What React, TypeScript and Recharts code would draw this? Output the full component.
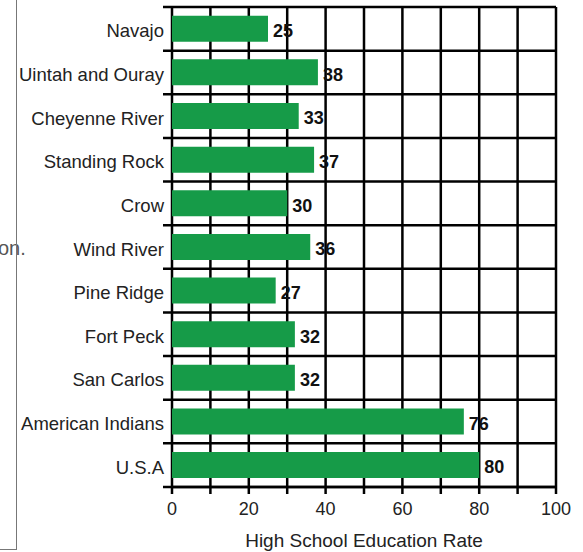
import React from 'react'
import {
  Bar,
  BarChart,
  CartesianGrid,
  LabelList,
  XAxis,
  YAxis,
} from 'recharts'

const places = [
  'Navajo',
  'Uintah and Ouray',
  'Cheyenne River',
  'Standing Rock',
  'Crow',
  'Wind River',
  'Pine Ridge',
  'Fort Peck',
  'San Carlos',
  'American Indians',
  'U.S.A',
]
const rates = [25, 38, 33, 37, 30, 36, 27, 32, 32, 76, 80]
const rateTicks = [0, 10, 20, 30, 40, 50, 60, 70, 80, 90, 100]

const data = places.map((name, i) => ({ name, rate: rates[i] }))

const font = 'Arial, "Liberation Sans", Helvetica, sans-serif'

// row lines sit on the band edges, not the band centres
const rowEdges = ({ offset }: any) => {
  const step = offset.height / places.length
  return Array.from({ length: places.length + 1 }, (_, i) => offset.top + i * step)
}

const App = () => (
  <div
    style={{
      position: 'absolute',
      left: 0,
      top: 0,
      width: 583,
      height: 552,
      background: '#fff',
      fontFamily: font,
      overflow: 'hidden',
    }}
  >
    <div
      style={{
        position: 'absolute',
        left: -2,
        top: 236,
        fontSize: 20,
        color: '#555',
        lineHeight: '24px',
      }}
    >
      on.
    </div>
    <div
      style={{
        position: 'absolute',
        left: 0,
        top: 0,
        width: 16,
        height: 549,
        borderRight: '1.5px solid #777',
        borderBottom: '1.5px solid #777',
      }}
    />
    <BarChart
      width={583}
      height={552}
      data={data}
      layout="vertical"
      barCategoryGap="20%"
      margin={{ top: 7, right: 27, bottom: 0, left: 0 }}
      style={{ position: 'absolute', left: 0, top: 0 }}
    >
      <CartesianGrid
        x={163}
        width={393}
        stroke="#000"
        strokeWidth={2.5}
        strokeOpacity={1}
        horizontalCoordinatesGenerator={rowEdges}
      />
      <XAxis
        type="number"
        domain={[0, 100]}
        ticks={rateTicks}
        interval={0}
        height={65}
        tickSize={7}
        tickMargin={8}
        axisLine={{ stroke: '#000', strokeWidth: 2.5 }}
        tickLine={{ stroke: '#000', strokeWidth: 2.5 }}
        tickFormatter={(v: number) => (v % 20 === 0 ? String(v) : '')}
        tick={{ fill: '#222', fontSize: 18, fontFamily: font }}
        label={{
          value: 'High School Education Rate',
          position: 'insideBottom',
          offset: 5,
          fill: '#222',
          fontSize: 19,
          fontFamily: font,
        }}
      />
      <YAxis
        type="category"
        dataKey="name"
        width={172}
        interval={0}
        tickSize={0}
        tickMargin={8}
        axisLine={false}
        tickLine={false}
        tick={{ fill: '#222', fontSize: 18.5, fontFamily: font, dy: 2 }}
      />
      <Bar dataKey="rate" fill="#169b48" isAnimationActive={false}>
        <LabelList
          dataKey="rate"
          position="right"
          offset={5}
          fill="#111"
          fontSize={18}
          fontWeight="bold"
          fontFamily={font}
          dy={2}
        />
      </Bar>
    </BarChart>
  </div>
)

export default App
